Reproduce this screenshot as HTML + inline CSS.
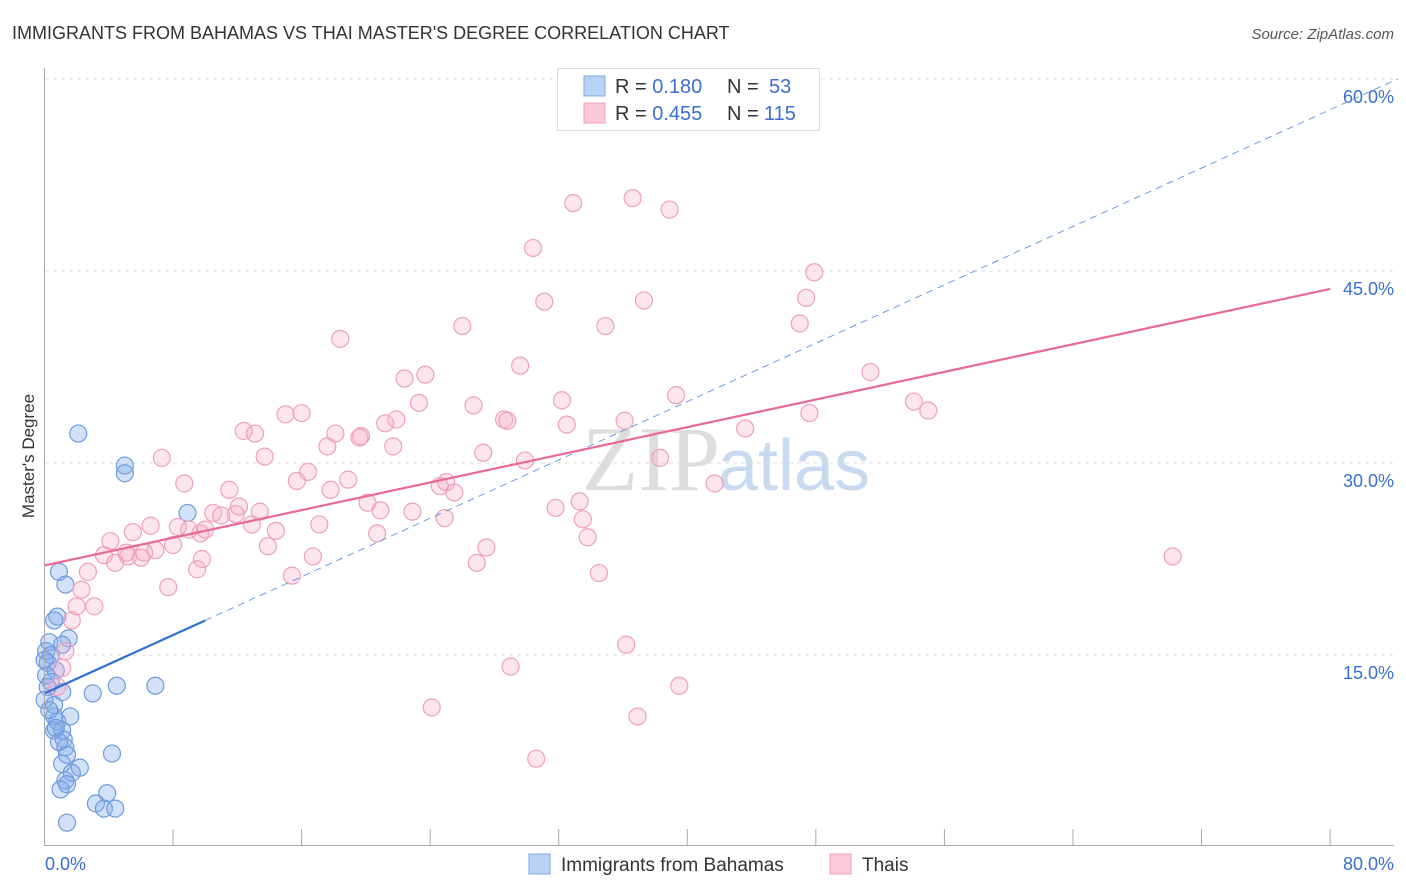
<!DOCTYPE html>
<html><head><meta charset="utf-8"><style>
body{margin:0;background:#fff;font-family:"Liberation Sans",sans-serif;}
svg{display:block}
</style></head><body>
<svg id="chart" width="1406" height="892">
<text x="12" y="39" font-size="18" fill="#333">IMMIGRANTS FROM BAHAMAS VS THAI MASTER'S DEGREE CORRELATION CHART</text>
<text x="1394" y="39" font-size="15" fill="#555" font-style="italic" text-anchor="end">Source: ZipAtlas.com</text>
<text x="34" y="456" font-size="17" fill="#333" text-anchor="middle" transform="rotate(-90 34 456)">Master's Degree</text>
<text x="720" y="490" font-size="92" fill="#ddd" font-family="Liberation Serif,serif" text-anchor="end">ZIP</text>
<text x="718" y="490" font-size="72" fill="#c8daf0" text-anchor="start">atlas</text>
<g id="grid"></g><g id="ticks"></g><g id="blue"></g><g id="pink"></g><g id="lines"></g>
<line x1="44.5" y1="68" x2="44.5" y2="845" stroke="#aaa"/>
<line x1="44" y1="845.5" x2="1394" y2="845.5" stroke="#aaa"/>
<text x="45" y="870" font-size="18" fill="#3a6fd0">0.0%</text>
<text x="1394" y="870" font-size="18" fill="#3a6fd0" text-anchor="end">80.0%</text>
<g>
<rect x="557.5" y="68.5" width="262" height="62" fill="#fff" stroke="#ddd"/>
<rect x="584" y="76" width="21" height="20" fill="#b9d3f5" stroke="#7fa8e0"/>
<rect x="584" y="103" width="21" height="20" fill="#fcc9d8" stroke="#eea0bb"/>
<text x="615" y="93" font-size="20" fill="#333">R = <tspan fill="#3a6fd0"> 0.180</tspan><tspan x="727">N = </tspan><tspan fill="#3a6fd0" x="769">53</tspan></text>
<text x="615" y="120" font-size="20" fill="#333">R = <tspan fill="#3a6fd0">0.455</tspan><tspan x="727">N = </tspan><tspan fill="#3a6fd0" x="764">115</tspan></text>
</g>
<g>
<rect x="529" y="854" width="21" height="20" fill="#b9d3f5" stroke="#7fa8e0"/>
<text x="561" y="871" font-size="19" fill="#333">Immigrants from Bahamas</text>
<rect x="830" y="854" width="21" height="20" fill="#fcc9d8" stroke="#eea0bb"/>
<text x="862" y="871" font-size="19" fill="#333">Thais</text>
</g>
</svg>
<script>
const yTicks=[15,30,45,60];
const yTickLabels=["15.0%","30.0%","45.0%","60.0%"];
const xTicks=[0,8,16,24,32,40,48,56,64,72,80];
const blueX=[2.1,5.0,5.0,8.9,0.9,1.3,0.8,0.6,1.5,0.3,1.1,0.1,0.4,0.2,0.7,0.1,0.4,0.2,1.1,3.0,4.5,6.9,0.6,1.6,0.6,0.8,1.1,0.6,1.2,1.3,4.2,1.4,1.1,2.2,1.7,1.3,1.4,1.0,3.9,3.2,3.7,4.4,1.4,0,0,0.3,0.7,0.9];
const blueY=[32.3,29.8,29.2,26.1,21.5,20.5,18.0,17.7,16.3,16.0,15.8,15.3,15.0,14.4,13.8,13.4,12.9,12.5,12.1,12.0,12.6,12.6,11.1,10.2,10.2,9.8,9.1,9.1,8.4,7.8,7.3,7.2,6.5,6.2,5.8,5.2,4.9,4.5,4.2,3.4,3.0,3.0,1.9,14.6,11.5,10.7,9.3,8.2];
const pinkX=[32.9,36.6,38.9,30.4,47.9,47.4,31.1,37.3,26.0,34.9,47.0,18.4,29.6,22.4,23.7,51.4,39.3,32.2,23.3,54.1,55.0,26.7,47.6,15.0,16.0,28.6,28.8,21.2,21.9,32.5,36.1,12.4,13.1,18.1,19.7,43.6,17.6,19.6,21.7,27.3,7.3,38.3,29.9,13.7,16.4,8.7,18.9,17.8,41.7,15.7,24.6,25.0,25.5,11.5,20.1,33.3,12.1,31.8,20.9,22.9,10.5,11.0,11.9,13.4,24.9,33.5,6.6,8.3,17.1,12.9,9.0,14.4,9.7,10.0,5.5,4.1,33.8,20.7,13.9,8.0,27.5,6.9,3.7,5.1,6.2,5.2,6.0,9.8,4.4,9.5,16.7,26.9,2.7,15.4,34.5,7.7,2.3,3.1,2.0,1.7,70.2,36.2,1.3,1.1,29.0,39.5,0.8,24.1,36.9,30.6];
const pinkY=[50.3,50.7,49.8,46.8,44.9,42.9,42.6,42.7,40.7,40.7,40.9,39.7,37.6,36.6,36.9,37.1,35.3,34.9,34.7,34.8,34.1,34.5,33.9,33.8,33.9,33.4,33.3,33.1,33.4,33.0,33.3,32.5,32.3,32.3,32.1,32.7,31.3,32.0,31.3,30.8,30.4,30.4,30.2,30.5,29.3,28.4,28.7,27.9,28.4,28.6,28.2,28.5,27.7,27.9,26.9,27.0,26.6,26.5,26.3,26.2,26.1,25.9,26.0,26.2,25.7,25.6,25.1,25.0,25.2,25.2,24.8,24.7,24.5,24.8,24.6,23.9,24.2,24.5,23.5,23.6,23.4,23.2,22.8,23.0,23.0,22.7,22.6,22.5,22.2,21.7,22.7,22.2,21.5,21.2,21.4,20.3,20.1,18.8,18.8,17.7,22.7,15.8,15.3,14.0,14.1,12.6,12.5,10.9,10.2,6.9];
const blueTrend=[12.0,0.57];
const pinkTrend=[22.0,0.27];
const NS="http://www.w3.org/2000/svg";
const X=v=>44.5+v*16.07, Y=v=>847-v*12.8;
function mk(p,t,a){const e=document.createElementNS(NS,t);for(const k in a)e.setAttribute(k,a[k]);document.getElementById(p).appendChild(e);return e;}
yTicks.forEach((t,i)=>{
 const g=mk('grid','line',{x1:45,x2:1394,y1:Y(t),y2:Y(t),stroke:'#ddd','stroke-dasharray':'4,4'});
 
 
 const l=mk('grid','text',{x:1394,y:Y(t)+24,'font-size':18,fill:'#3a6fd0','text-anchor':'end'});
 l.textContent=yTickLabels[i];
 
 
});
xTicks.forEach(t=>{
 const e=mk('ticks','line',{x1:X(t),x2:X(t),y1:829,y2:845,stroke:'#aaa'});
 
 
});
blueX.forEach((x,i)=>{
 const c=mk('blue','circle',{cx:X(x),cy:Y(blueY[i]),r:8.5,fill:'rgba(130,170,235,0.35)',stroke:'#6d9be0','stroke-width':1.2});
 
 
});
pinkX.forEach((x,i)=>{
 const c=mk('pink','circle',{cx:X(x),cy:Y(pinkY[i]),r:8.5,fill:'rgba(245,170,195,0.3)',stroke:'#eea0bb','stroke-width':1.2});
 
 
});
const bEnd=(60-blueTrend[0])/blueTrend[1];
let l1=mk('lines','line',{x1:X(10),y1:Y(blueTrend[0]+10*blueTrend[1]),x2:X(bEnd),y2:Y(60),stroke:'#6d9be0','stroke-width':1,'stroke-dasharray':'7,5'});


let l2=mk('lines','line',{x1:X(0),y1:Y(blueTrend[0]),x2:X(10),y2:Y(blueTrend[0]+10*blueTrend[1]),stroke:'#2f6fd6','stroke-width':2.2});


let l3=mk('lines','line',{x1:X(0),y1:Y(pinkTrend[0]),x2:X(80),y2:Y(pinkTrend[0]+80*pinkTrend[1]),stroke:'#e8689a','stroke-width':2.2});


</script>
</body></html>
